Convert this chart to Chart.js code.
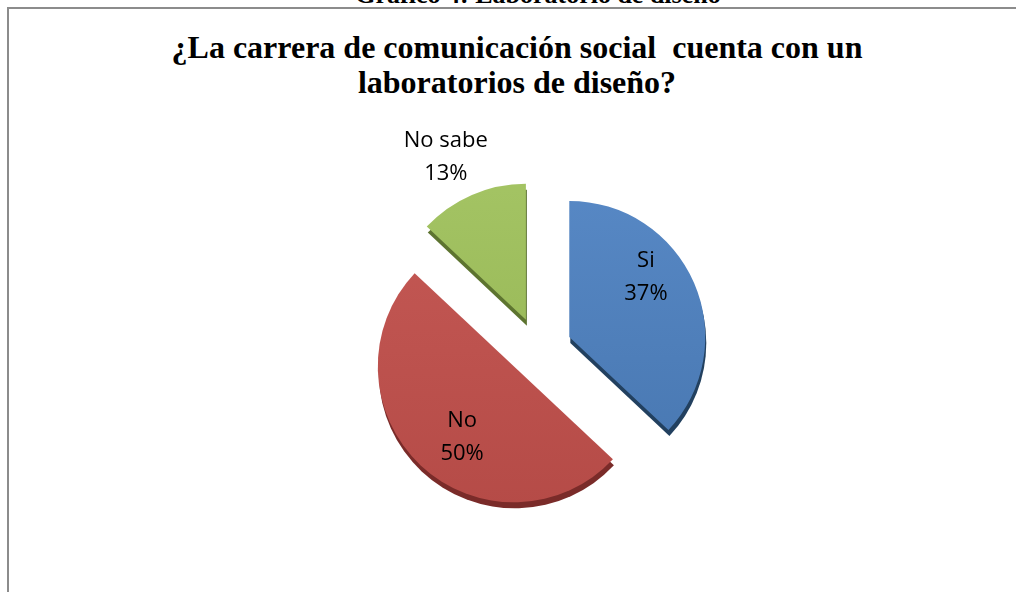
<!DOCTYPE html>
<html>
<head>
<meta charset="utf-8">
<script src="https://cdn.jsdelivr.net/npm/chart.js@4.4.1/dist/chart.umd.min.js"></script>
<style>
body { margin: 0; background: #fff; }
#wrap { position: relative; width: 1016px; height: 592px; overflow: hidden; }
#frame { position: absolute; left: 7px; top: 7px; width: 1100px; height: 700px;
         border-left: 2px solid #8c8c8c; border-top: 2px solid #8c8c8c; }
#caption { position: absolute; left: 0; width: 1076px; top: -20px; text-align: center;
           font: bold 26px "Liberation Serif"; line-height: 30px; color: #000; }
#title { position: absolute; left: 0; width: 1034px; top: 30px; text-align: center;
         font: bold 32px "Liberation Serif"; line-height: 35px; white-space: pre; color: #000; }
canvas { position: absolute; left: 0; top: 0; }
</style>
</head>
<body>
<div id="wrap">
  <div id="frame"></div>
  <div id="caption">Gráfico 4: Laboratorio de diseño</div>
  <div id="title">¿La carrera de comunicación social  cuenta con un
laboratorios de diseño?</div>
  <canvas id="myChart" width="1016" height="592"></canvas>
</div>
<script>
// datos
let labels = ['Si', 'No', 'No sabe'];
let values = [37, 50, 13];

// estilo de cada porcion
let colTop = ['#5889c6', '#c65a56', '#a4c464'];
let colBottom = ['#4574ad', '#b44a46', '#91b14f'];
let colSide = ['#22405f', '#7a2b29', '#5d7430'];
let explode = [33, 30, 33];
let explodeShift = [0, 14, 0];
let depthX = 1, depthY = 6;
let labelFrac = [0.72, 0.638, 1.343];
let labelShift = [-15.1, -6.6, -2.6];

let explodePlugin = {
    id: 'explode',
    afterDatasetsUpdate(chart)
    {
        chart.getDatasetMeta(0).data.forEach((arc, i) => {
            let mid = (arc.startAngle + arc.endAngle) / 2 + explodeShift[i] * Math.PI / 180;
            arc.x += Math.cos(mid) * explode[i];
            arc.y += Math.sin(mid) * explode[i];
        });
    },
    beforeDatasetsDraw(chart)
    {
        let ctx = chart.ctx;
        chart.getDatasetMeta(0).data.forEach((arc, i) => {
            ctx.save();
            ctx.fillStyle = colSide[i];
            ctx.beginPath();
            ctx.moveTo(arc.x + depthX, arc.y + depthY);
            ctx.arc(arc.x + depthX, arc.y + depthY, arc.outerRadius, arc.startAngle, arc.endAngle);
            ctx.closePath();
            ctx.fill();
            ctx.restore();
        });
    },
    afterDatasetsDraw(chart)
    {
        let ctx = chart.ctx;
        let total = values.reduce((a, b) => a + b, 0);
        ctx.save();
        ctx.font = '22px "Open Sans"';
        ctx.fillStyle = '#000';
        ctx.textAlign = 'center';
        ctx.textBaseline = 'alphabetic';
        chart.getDatasetMeta(0).data.forEach((arc, i) => {
            let a = (arc.startAngle + arc.endAngle) / 2 + labelShift[i] * Math.PI / 180;
            let r = arc.outerRadius * labelFrac[i];
            let x = arc.x + Math.cos(a) * r;
            let y = arc.y + Math.sin(a) * r;
            let pct = Math.round(values[i] / total * 100) + '%';
            ctx.fillText(labels[i], x, y - 16.3 + 7.8);
            ctx.fillText(pct, x, y + 16.3 + 7.8);
        });
        ctx.restore();
    }
};

function createChart()
{
    new Chart(document.getElementById('myChart'),
        {
            type: 'pie',
            data:
            {
                labels: labels,
                datasets: [{
                    data: values,
                    radius: 136,
                    borderWidth: 0,
                    backgroundColor: (c) => {
                        let area = c.chart.chartArea;
                        if (!area) return colBottom[c.dataIndex];
                        let cy = (area.top + area.bottom) / 2;
                        let g = c.chart.ctx.createLinearGradient(0, cy - 180, 0, cy + 180);
                        g.addColorStop(0, colTop[c.dataIndex]);
                        g.addColorStop(1, colBottom[c.dataIndex]);
                        return g;
                    }
                }]
            },
            options:
            {
                responsive: false,
                animation: false,
                layout: { padding: { left: 62, right: 0, top: 108, bottom: 0 } },
                plugins: {
                    legend: { display: false },
                    tooltip: { enabled: false },
                    title: { display: false }
                }
            },
            plugins: [explodePlugin]
        }
    );
}

createChart();
</script>
</body>
</html>
